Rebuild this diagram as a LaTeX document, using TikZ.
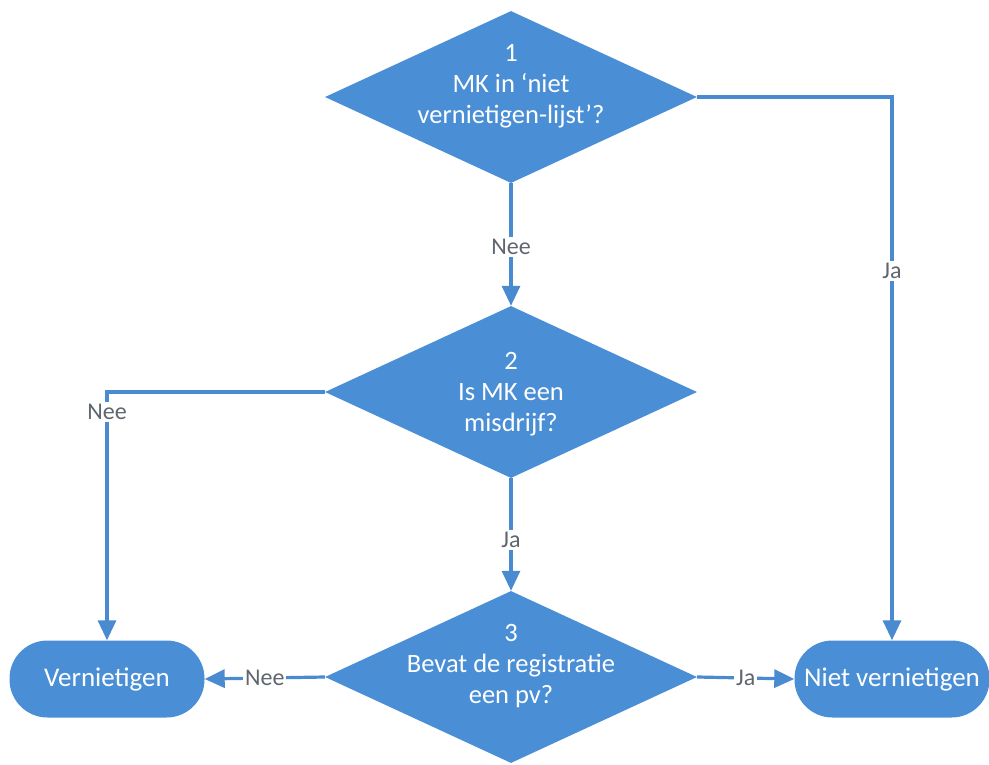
\documentclass[tikz,border=0pt]{standalone}
\usepackage{fontspec}
\setmainfont{Carlito}
\usetikzlibrary{shapes.geometric,arrows.meta}
\definecolor{fc}{HTML}{4A8FD6}
\definecolor{lc}{HTML}{4A8AD0}
\definecolor{gc}{HTML}{5F6670}
\begin{document}
\begin{tikzpicture}[x=1pt,y=-1pt,
  dec/.style={diamond, fill=fc, minimum width=372pt, minimum height=172pt, inner sep=0pt},
  term/.style={rectangle, rounded corners=38pt, fill=fc, minimum width=195pt, minimum height=77pt, text=white, font=\fontsize{27}{30}\selectfont},
  dtext/.style={text=white, align=center, font=\fontsize{26.5}{31}\selectfont},
  conn/.style={draw=lc, line width=3.2pt, -{Triangle[length=20pt,width=18pt]}},
  lab/.style={fill=white, text=gc, font=\fontsize{24}{24}\selectfont, inner sep=2pt}]
\useasboundingbox (0,0) rectangle (989,764);
\node[dec] (d1) at (511,97) {};
\node[dtext] (t1) at (511,86) {1\\MK in ‘niet\\vernietigen-lijst’?};
\node[dec] (d2) at (511,392) {};
\node[dtext] (t2) at (511,394) {2\\Is MK een\\misdrijf?};
\node[dec] (d3) at (511,677) {};
\node[dtext] (t3) at (511,666) {3\\Bevat de registratie\\een pv?};
\node[term] (v) at (107,679) {Vernietigen};
\node[term] (n) at (892,679) {Niet vernietigen};
\draw[conn] (d1.east) -| node[lab, pos=0.66] {Ja} (n.north);
\draw[conn] (d1.south) -- node[lab, pos=0.52] {Nee} (d2.north);
\draw[conn] (d2.west) -| node[lab, pos=0.54] {Nee} (v.north);
\draw[conn] (d2.south) -- node[lab, pos=0.55] {Ja} (d3.north);
\draw[conn] (d3.west) -- node[lab] {Nee} (v.east);
\draw[conn] (d3.east) -- node[lab] {Ja} (n.west);
\end{tikzpicture}
\end{document}
